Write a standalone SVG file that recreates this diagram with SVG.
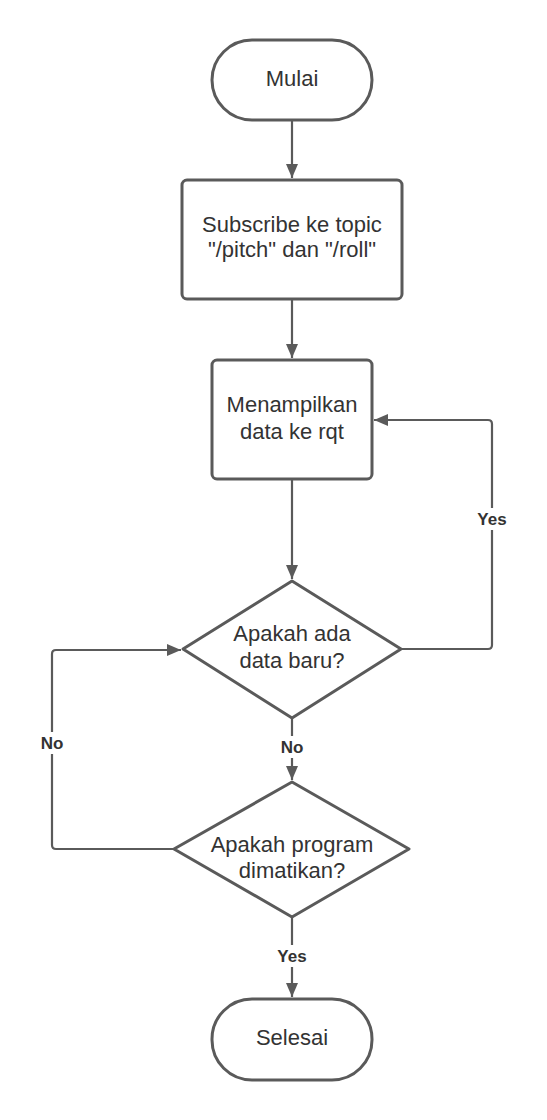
<svg xmlns="http://www.w3.org/2000/svg" width="547" height="1120" viewBox="0 0 547 1120">
<style>
.shape{fill:#fff;stroke:#5a5a5a;stroke-width:3}
.conn{fill:none;stroke:#5a5a5a;stroke-width:2.2;stroke-linejoin:round}
.t{font-family:"Liberation Sans",Arial,sans-serif;font-size:22px;fill:#333;text-anchor:middle;dominant-baseline:central}
.lbl{font-family:"Liberation Sans",Arial,sans-serif;font-size:17px;font-weight:bold;fill:#333;text-anchor:middle;dominant-baseline:central}
.lblbg{fill:#fff}
</style>
<defs>
<marker id="ah" viewBox="0 0 14 12" refX="14" refY="6" markerWidth="14" markerHeight="12" markerUnits="userSpaceOnUse" orient="auto">
<path d="M0,0 L14,6 L0,12 Z" fill="#5a5a5a"/>
</marker>
</defs>
<rect width="547" height="1120" fill="#fff"/>
<g id="connectors">
<path class="conn" d="M292,120 V178" marker-end="url(#ah)"/>
<path class="conn" d="M292,300 V358" marker-end="url(#ah)"/>
<path class="conn" d="M292,480 V579" marker-end="url(#ah)"/>
<path class="conn" d="M401,649 H488 Q492,649 492,645 V424 Q492,420 488,420 H374" marker-end="url(#ah)"/>
<path class="conn" d="M292,718 V780" marker-end="url(#ah)"/>
<path class="conn" d="M174,849 H56 Q52,849 52,845 V654 Q52,650 56,650 H181" marker-end="url(#ah)"/>
<path class="conn" d="M292,917 V997" marker-end="url(#ah)"/>
<rect class="lblbg" x="472" y="508" width="40" height="22"/>
<text class="lbl" x="492" y="519">Yes</text>
<rect class="lblbg" x="34" y="732" width="36" height="22"/>
<text class="lbl" x="52" y="743">No</text>
<rect class="lblbg" x="274" y="736" width="36" height="22"/>
<text class="lbl" x="292" y="747">No</text>
<rect class="lblbg" x="272" y="945" width="40" height="22"/>
<text class="lbl" x="292" y="956">Yes</text>
</g>
<g id="mulai">
<rect class="shape" x="212" y="40" width="160" height="80" rx="40"/>
<text class="t" x="292" y="78">Mulai</text>
</g>
<g id="subscribe">
<rect class="shape" x="182" y="180" width="220" height="119" rx="5"/>
<text class="t" x="292" y="224">Subscribe ke topic</text>
<text class="t" x="292" y="249">"/pitch" dan "/roll"</text>
</g>
<g id="menampilkan">
<rect class="shape" x="212" y="360" width="160" height="119" rx="5"/>
<text class="t" x="292" y="404">Menampilkan</text>
<text class="t" x="292" y="431">data ke rqt</text>
</g>
<g id="dataBaru">
<polygon class="shape" points="292,581 401,649 292,718 183,649" stroke-linejoin="round"/>
<text class="t" x="292" y="633">Apakah ada</text>
<text class="t" x="292" y="660">data baru?</text>
</g>
<g id="dimatikan">
<polygon class="shape" points="292,782 409,849 292,917 174,849" stroke-linejoin="round"/>
<text class="t" x="292" y="844">Apakah program</text>
<text class="t" x="292" y="870">dimatikan?</text>
</g>
<g id="selesai">
<rect class="shape" x="212" y="999" width="160" height="81" rx="40"/>
<text class="t" x="292" y="1037">Selesai</text>
</g>
</svg>
